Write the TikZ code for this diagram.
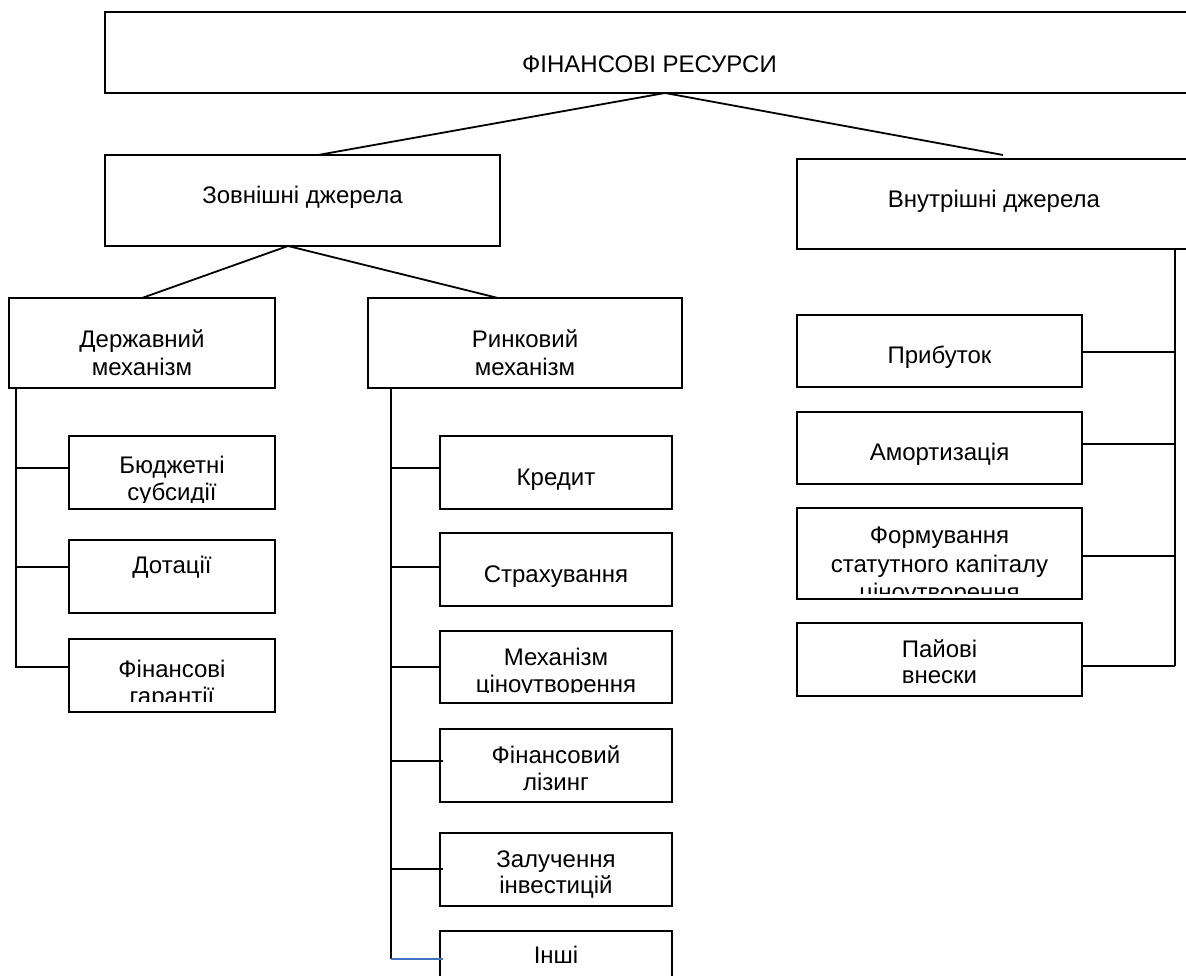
\documentclass[tikz,border=0pt]{standalone}
\usepackage{fontspec}
\setmainfont{Liberation Sans}
\definecolor{wordblue}{HTML}{4472C4}
\begin{document}
\begin{tikzpicture}[x=1pt,y=-1pt,
  box/.style={draw=black, line width=1.6pt, inner sep=0pt, outer sep=0pt, anchor=north west},
  txt/.style={font=\fontsize{24}{27}\selectfont, anchor=base, inner sep=0pt, outer sep=0pt},
  conn/.style={draw=black, line width=1.8pt},
  bconn/.style={draw=wordblue, line width=1.4pt}]
\clip (0,0) rectangle (1186,976);
\fill[white] (0,0) rectangle (1186,976);
% boxes
\node[box, minimum width=1089pt, minimum height=81pt] (top) at (105,12) {};
\node[box, minimum width=395pt, minimum height=91pt] (zov) at (105,155) {};
\node[box, minimum width=394pt, minimum height=90pt] (vnu) at (797,159) {};
\node[box, minimum width=266pt, minimum height=90pt] (derzh) at (9,298) {};
\node[box, minimum width=314pt, minimum height=90pt] (rynk) at (368,298) {};
\node[box, minimum width=206pt, minimum height=73pt] (bud) at (69,436) {};
\node[box, minimum width=206pt, minimum height=73pt] (dot) at (69,540) {};
\node[box, minimum width=206pt, minimum height=73pt] (fgar) at (69,639) {};
\node[box, minimum width=232pt, minimum height=73pt] (kred) at (440,436) {};
\node[box, minimum width=232pt, minimum height=73pt] (strakh) at (440,533) {};
\node[box, minimum width=232pt, minimum height=72pt] (mekh) at (440,631) {};
\node[box, minimum width=232pt, minimum height=73pt] (lizing) at (440,729) {};
\node[box, minimum width=232pt, minimum height=73pt] (zaluch) at (440,833) {};
\node[box, minimum width=232pt, minimum height=80pt] (inshi) at (440,931) {};
\node[box, minimum width=285pt, minimum height=72pt] (prib) at (797,315) {};
\node[box, minimum width=285pt, minimum height=72pt] (amort) at (797,412) {};
\node[box, minimum width=285pt, minimum height=91pt] (form) at (797,508) {};
\node[box, minimum width=285pt, minimum height=73pt] (pai) at (797,623) {};
% texts
\node[txt] (t-top) at (649.5,73) {ФІНАНСОВІ РЕСУРСИ};
\node[txt] (t-zov) at (302.5,204) {Зовнішні джерела};
\node[txt] (t-vnu) at (994,208) {Внутрішні джерела};
\node[txt] (t-derzh1) at (142,348) {Державний};
\node[txt] (t-derzh2) at (142,375) {механізм};
\node[txt] (t-rynk1) at (525,347) {Ринковий};
\node[txt] (t-rynk2) at (525,375) {механізм};
\node[txt] (t-bud1) at (172,473) {Бюджетні};
\begin{scope}
\clip (69,436) rectangle (275,502);
\node[txt] (t-bud2) at (172,500) {субсидії};
\end{scope}
\node[txt] (t-dot) at (172,573) {Дотації};
\node[txt] (t-fgar1) at (172,677) {Фінансові};
\begin{scope}
\clip (69,639) rectangle (275,701);
\node[txt] (t-fgar2) at (172,704) {гарантії};
\end{scope}
\node[txt] (t-kred) at (556,485) {Кредит};
\node[txt] (t-strakh) at (556,582) {Страхування};
\node[txt] (t-mekh1) at (556,665) {Механізм};
\begin{scope}
\clip (440,631) rectangle (672,692.5);
\node[txt] (t-mekh2) at (556,692) {ціноутворення};
\end{scope}
\node[txt] (t-liz1) at (556,763) {Фінансовий};
\node[txt] (t-liz2) at (556,790) {лізинг};
\node[txt] (t-zal1) at (556,867) {Залучення};
\node[txt] (t-zal2) at (556,893) {інвестицій};
\node[txt] (t-inshi) at (556,963) {Інші};
\node[txt] (t-prib) at (939.5,363) {Прибуток};
\node[txt] (t-amort) at (939.5,460) {Амортизація};
\node[txt] (t-form1) at (939.5,543) {Формування};
\node[txt] (t-form2) at (939.5,572) {статутного капіталу};
\begin{scope}
\clip (797,508) rectangle (1082,593);
\node[txt] (t-form3) at (939.5,600) {ціноутворення};
\end{scope}
\node[txt] (t-pai1) at (939.5,657) {Пайові};
\node[txt] (t-pai2) at (939.5,683) {внески};
% top-level connectors
\coordinate (vnuend) at (1003,155);
\draw[conn] ([xshift=15.5pt]top.south) -- ([xshift=15.5pt]zov.north);
\draw[conn] ([xshift=15.5pt]top.south) -- (vnuend);
\draw[conn] ([xshift=-14.5pt]zov.south) -- (derzh.north);
\draw[conn] ([xshift=-14.5pt]zov.south) -- ([xshift=-27pt]rynk.north);
% state mechanism spine
\coordinate (ds) at ([xshift=7pt]derzh.south west);
\coordinate (b1) at ([yshift=4.5pt]bud.west);
\coordinate (b2) at ([yshift=9.5pt]dot.west);
\coordinate (b3) at ([yshift=8.5pt]fgar.west);
\draw[conn] (ds) |- (b3);
\draw[conn] (b1 -| ds) -- (b1);
\draw[conn] (b2 -| ds) -- (b2);
% market mechanism spine
\coordinate (rs) at ([xshift=23pt]rynk.south west);
\coordinate (k1) at ([yshift=4.5pt]kred.west);
\coordinate (k2) at ([yshift=2.5pt]strakh.west);
\coordinate (k3) at (mekh.west);
\coordinate (k4) at ([xshift=3pt,yshift=4.5pt]lizing.west);
\coordinate (k5) at ([xshift=3pt,yshift=0.5pt]zaluch.west);
\coordinate (k6) at ([xshift=3pt,yshift=12pt]inshi.west);
\draw[conn] (rs) -- (rs |- k6);
\foreach \k in {k1,k2,k3,k4,k5} \draw[conn] (\k -| rs) -- (\k);
\draw[bconn] (k6 -| rs) -- (k6);
% internal sources spine
\coordinate (vs) at ([xshift=-16pt]vnu.south east);
\coordinate (p1) at ([yshift=-1pt]prib.east);
\coordinate (p2) at ([yshift=4pt]amort.east);
\coordinate (p3) at ([yshift=-2.5pt]form.east);
\coordinate (p4) at ([yshift=-6.5pt]pai.east);
\draw[conn] (vs) -- (vs |- p4);
\foreach \p in {p1,p2,p3,p4} \draw[conn] (\p) -- (\p -| vs);
\end{tikzpicture}
\end{document}
